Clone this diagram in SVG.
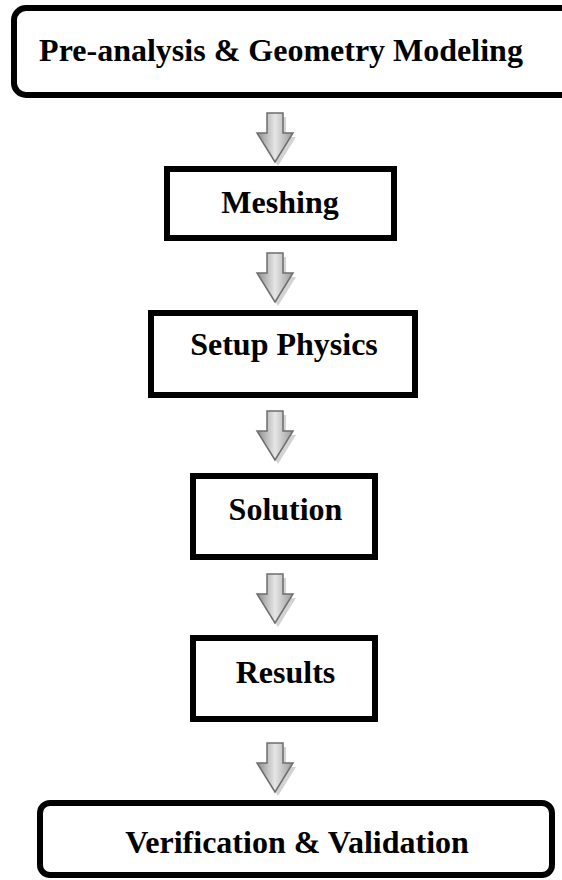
<svg xmlns="http://www.w3.org/2000/svg" xmlns:xlink="http://www.w3.org/1999/xlink" width="562" height="880" viewBox="0 0 562 880">
<style>
.box{fill:#fff;stroke:#000;stroke-width:6}
.lbl{font-family:"Liberation Serif","Times New Roman",serif;font-weight:bold;font-size:32px;fill:#000;text-anchor:middle}
</style>
<defs>
<linearGradient id="ag" x1="0" y1="0" x2="1" y2="0">
<stop offset="0" stop-color="#8c8c8c"/>
<stop offset="0.5" stop-color="#e6e6e6"/>
<stop offset="1" stop-color="#9a9a9a"/>
</linearGradient>
<g id="arrow">
<path d="M-8 0H8V20H18L0 49L-18 20H-8Z" transform="translate(3,4)" fill="#c8c8c8" opacity="0.8"/>
<path d="M-8 0H8V20H18L0 49L-18 20H-8Z" fill="url(#ag)" stroke="#6e6e6e" stroke-width="1.5" stroke-linejoin="miter"/>
</g>
</defs>
<rect width="562" height="880" fill="#fff"/>
<g id="connectors">
<use xlink:href="#arrow" href="#arrow" x="275" y="113"/>
<use xlink:href="#arrow" href="#arrow" x="275" y="253"/>
<use xlink:href="#arrow" href="#arrow" x="275" y="411"/>
<use xlink:href="#arrow" href="#arrow" x="275" y="574"/>
<use xlink:href="#arrow" href="#arrow" x="275" y="743"/>
</g>
<g id="pre-analysis">
<rect class="box" x="14" y="8" width="600" height="87" rx="12"/>
<text class="lbl" x="281" y="61">Pre-analysis &amp; Geometry Modeling</text>
</g>
<g id="meshing">
<rect class="box" x="167" y="169" width="227" height="69"/>
<text class="lbl" x="280" y="213">Meshing</text>
</g>
<g id="setup-physics">
<rect class="box" x="151" y="313" width="264" height="82"/>
<text class="lbl" x="284" y="355">Setup Physics</text>
</g>
<g id="solution">
<rect class="box" x="193" y="476" width="182" height="81"/>
<text class="lbl" x="285.5" y="520">Solution</text>
</g>
<g id="results">
<rect class="box" x="193" y="638" width="182" height="81"/>
<text class="lbl" x="285.5" y="683">Results</text>
</g>
<g id="verification">
<rect class="box" x="40" y="803" width="512" height="72" rx="10"/>
<text class="lbl" x="297" y="853">Verification &amp; Validation</text>
</g>
</svg>
